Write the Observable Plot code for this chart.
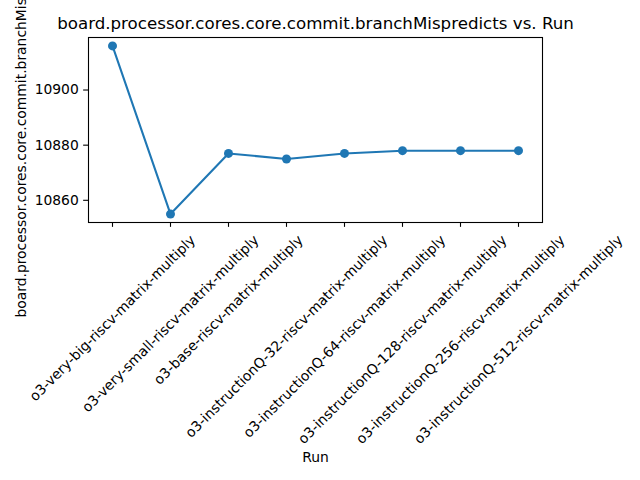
<!DOCTYPE html>
<html>
<head>
<meta charset="utf-8">
<script src="https://cdn.jsdelivr.net/npm/d3@7"></script>
<script src="https://cdn.jsdelivr.net/npm/@observablehq/plot@0.6"></script>
<style>
  html, body { margin: 0; padding: 0; background: white; }
  svg { display: block; }
</style>
</head>
<body>
<script>
const runs = [
  "o3-very-big-riscv-matrix-multiply",
  "o3-very-small-riscv-matrix-multiply",
  "o3-base-riscv-matrix-multiply",
  "o3-instructionQ-32-riscv-matrix-multiply",
  "o3-instructionQ-64-riscv-matrix-multiply",
  "o3-instructionQ-128-riscv-matrix-multiply",
  "o3-instructionQ-256-riscv-matrix-multiply",
  "o3-instructionQ-512-riscv-matrix-multiply"
];
const values = [10916, 10855, 10877, 10875, 10877, 10878, 10878, 10878];
const yTicks = [10860, 10880, 10900];
const metric = "board.processor.cores.core.commit.branchMispredicts";
const titleText = metric + " vs. Run";

const data = runs.map((r, i) => ({run: r, value: values[i]}));
const vmin = d3.min(values), vmax = d3.max(values);
const pad = (vmax - vmin) * 0.05;

const FS = 13.89;
const chart = Plot.plot({
  width: 640,
  height: 480,
  marginLeft: 88,
  marginRight: 98,
  marginTop: 37,
  marginBottom: 258,
  style: {fontFamily: "DejaVu Sans", fontSize: FS + "px", color: "black", background: "white"},
  x: {type: "point", domain: runs, padding: 0.35, axis: null},
  y: {domain: [vmin - pad, vmax + pad], axis: null},
  marks: [
    Plot.axisY({ticks: yTicks, tickSize: 4.86, tickPadding: 4.86, tickFormat: d => String(d), label: null, fontSize: FS, strokeWidth: 1.1}),
    Plot.axisX({ticks: runs, tickSize: 4.86, tickFormat: () => "", label: null, strokeWidth: 1.1}),
    Plot.line(data, {x: "run", y: "value", stroke: "#1f77b4", strokeWidth: 2.08}),
    Plot.dot(data, {x: "run", y: "value", r: 4.5, fill: "#1f77b4", stroke: "none"}),
    Plot.frame({stroke: "black", strokeWidth: 1.1}),
    Plot.text(runs, {x: d => d, frameAnchor: "bottom", rotate: -45, textAnchor: "middle", lineAnchor: "middle", fontSize: FS, fill: "black"}),
    Plot.text([titleText], {frameAnchor: "top", textAnchor: "middle", lineAnchor: "bottom", dy: -8.3, fontSize: 16.67, fill: "black"}),
    Plot.text([metric], {frameAnchor: "left", rotate: -90, textAnchor: "middle", dx: -67, lineAnchor: "middle", fontSize: FS, fill: "black"}),
    Plot.text(["Run"], {frameAnchor: "bottom", textAnchor: "middle", dy: 235, lineAnchor: "middle", fontSize: FS, fill: "black"})
  ]
});
document.body.appendChild(chart);

// matplotlib-style centering of rotated tick labels: top of rotated bbox below the tick
const runSet = new Set(runs);
const h = 16;
chart.querySelectorAll("text").forEach(t => {
  if (runSet.has(t.textContent)) {
    const L = t.getComputedTextLength();
    const off = 4.86 + 4.86 + (L + h) * Math.SQRT1_2 / 2;
    const tr = t.getAttribute("transform") || "";
    t.setAttribute("transform", `translate(0,${off}) ` + tr);
  }
});
</script>
</body>
</html>
